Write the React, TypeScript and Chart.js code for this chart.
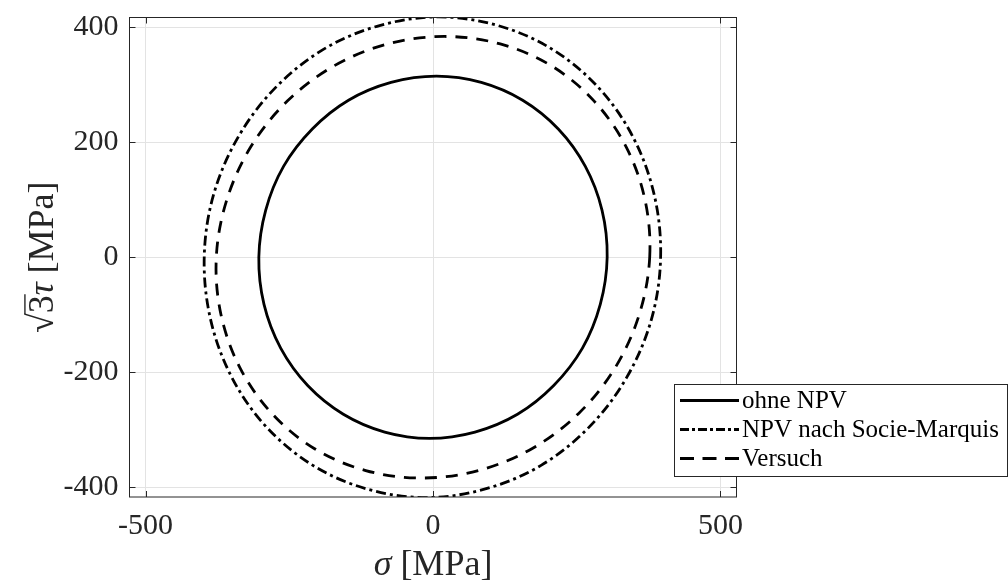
import React, { useEffect, useRef } from "react";
import { Chart, registerables } from "chart.js";

Chart.register(...registerables);

// ---- data ----
const seriesLabels = ["ohne NPV", "NPV nach Socie-Marquis", "Versuch"];

// ohne NPV (solid)
const ohneSigma = [303, 294, 265, 218, 156, 84, 6, -73, -147, -210, -260, -291, -303, -294, -265, -218, -156, -84, -6, 73, 147, 210, 260, 291];
const ohneTau = [0, 82, 158, 223, 273, 304, 315, 304, 273, 223, 158, 82, 0, -82, -158, -223, -273, -304, -315, -304, -273, -223, -158, -82];

// NPV nach Socie-Marquis (dash-dot)
const smSigma = [396, 385, 348, 288, 207, 113, 10, -93, -190, -274, -339, -382, -398, -387, -350, -290, -209, -115, -12, 91, 188, 272, 337, 380];
const smTau = [0, 108, 209, 295, 362, 403, 418, 403, 362, 295, 209, 108, 0, -108, -209, -295, -362, -403, -418, -403, -362, -295, -209, -108];

// Versuch (dashed)
const vSigma = [377, 369, 336, 280, 206, 117, 20, -79, -172, -253, -317, -359, -377, -369, -336, -280, -206, -117, -20, 79, 172, 253, 317, 359];
const vTau = [0, 99, 192, 272, 333, 371, 384, 371, 333, 272, 192, 99, 0, -99, -192, -272, -333, -371, -384, -371, -333, -272, -192, -99];

const xTickValues = [-500, 0, 500];
const yTickValues = [-400, -200, 0, 200, 400];
const xLimits = [-528, 528];
const yLimits = [-417, 417];

const SERIF = '"Liberation Serif", "DejaVu Serif", serif';
const AXIS_COLOR = "#262626";

const toPoints = (xs: number[], ys: number[]) => xs.map((x, i) => ({ x, y: ys[i] }));

const loopPlugin = {
  id: "closedLoop",
  afterDatasetUpdate(chart: any, args: any) {
    const line = args.meta && args.meta.dataset;
    if (line) {
      line._loop = true;
      line._fullLoop = true;
    }
  },
};

const framePlugin = {
  id: "frame",
  afterDatasetsDraw(chart: any) {
    const { ctx, chartArea: a, scales } = chart;
    ctx.save();
    ctx.strokeStyle = AXIS_COLOR;
    ctx.lineWidth = 1;
    ctx.strokeRect(a.left, a.top, a.right - a.left, a.bottom - a.top);
    const tl = 6;
    ctx.beginPath();
    for (const v of xTickValues) {
      const px = Math.round(scales.x.getPixelForValue(v)) + 0.5;
      ctx.moveTo(px, a.bottom);
      ctx.lineTo(px, a.bottom - tl);
      ctx.moveTo(px, a.top);
      ctx.lineTo(px, a.top + tl);
    }
    for (const v of yTickValues) {
      const py = Math.round(scales.y.getPixelForValue(v)) + 0.5;
      ctx.moveTo(a.left, py);
      ctx.lineTo(a.left + tl, py);
      ctx.moveTo(a.right, py);
      ctx.lineTo(a.right - tl, py);
    }
    ctx.stroke();
    ctx.restore();
  },
};

const titlePlugin = {
  id: "axisTitles",
  afterDraw(chart: any) {
    const { ctx, chartArea: a } = chart;
    const fs = 36;
    const up = `${fs}px ${SERIF}`;
    const it = `italic ${fs}px ${SERIF}`;
    ctx.save();
    ctx.fillStyle = AXIS_COLOR;
    ctx.textBaseline = "alphabetic";
    ctx.textAlign = "left";
    // x title: σ [MPa]
    {
      const parts = [
        { t: "σ", f: it },
        { t: " [MPa]", f: up },
      ];
      let total = 0;
      for (const p of parts) {
        ctx.font = p.f;
        total += ctx.measureText(p.t).width;
      }
      let x = (a.left + a.right) / 2 - total / 2;
      const y = 575;
      for (const p of parts) {
        ctx.font = p.f;
        ctx.fillText(p.t, x, y);
        x += ctx.measureText(p.t).width;
      }
    }
    // y title: √3τ [MPa]
    {
      ctx.translate(53, (a.top + a.bottom) / 2);
      ctx.rotate(-Math.PI / 2);
      const parts = [
        { t: "√", f: up },
        { t: "3", f: up },
        { t: "τ", f: it },
        { t: " [MPa]", f: up },
      ];
      let total = 0;
      const widths: number[] = [];
      for (const p of parts) {
        ctx.font = p.f;
        const w = ctx.measureText(p.t).width;
        widths.push(w);
        total += w;
      }
      let x = -total / 2;
      const starts: number[] = [];
      for (let i = 0; i < parts.length; i++) {
        ctx.font = parts[i].f;
        starts.push(x);
        ctx.fillText(parts[i].t, x, 0);
        x += widths[i];
      }
      ctx.strokeStyle = AXIS_COLOR;
      ctx.lineWidth = 1.4;
      ctx.beginPath();
      const yb = -0.78 * fs;
      ctx.moveTo(starts[1] - 1, yb);
      ctx.lineTo(starts[1] + widths[1] + 1, yb);
      ctx.stroke();
    }
    ctx.restore();
  },
};

const legendPlugin = {
  id: "customLegend",
  afterDraw(chart: any) {
    const { ctx } = chart;
    const box = { x: 674.5, y: 384.5, w: 333, h: 92 };
    ctx.save();
    ctx.fillStyle = "#ffffff";
    ctx.fillRect(box.x, box.y, box.w, box.h);
    ctx.strokeStyle = AXIS_COLOR;
    ctx.lineWidth = 1;
    ctx.strokeRect(box.x, box.y, box.w, box.h);
    const rows = [400.5, 429.5, 458.5];
    chart.data.datasets.forEach((ds: any, i: number) => {
      const y = rows[i];
      ctx.save();
      ctx.strokeStyle = ds.borderColor;
      ctx.lineWidth = ds.borderWidth;
      ctx.setLineDash(ds.legendDash || []);
      ctx.beginPath();
      ctx.moveTo(680, y);
      ctx.lineTo(739, y);
      ctx.stroke();
      ctx.restore();
      ctx.fillStyle = "#000000";
      ctx.font = `25px ${SERIF}`;
      ctx.textBaseline = "alphabetic";
      ctx.textAlign = "left";
      ctx.fillText(ds.label, 742, y + 7.5);
    });
    ctx.restore();
  },
};

export default function App() {
  const canvasRef = useRef<HTMLCanvasElement | null>(null);

  useEffect(() => {
    const canvas = canvasRef.current;
    if (!canvas) return;
    const common = {
      borderColor: "#000000",
      borderWidth: 2.8,
      pointRadius: 0,
      pointHoverRadius: 0,
      fill: false,
      tension: 0.34,
      clip: 0,
    };
    const chart = new Chart(canvas, {
      type: "line",
      data: {
        datasets: [
          { ...common, label: seriesLabels[0], data: toPoints(ohneSigma, ohneTau), borderDash: [], legendDash: [] },
          { ...common, label: seriesLabels[1], data: toPoints(smSigma, smTau), borderDash: [10, 4, 3, 4], legendDash: [9, 3, 3, 3] },
          { ...common, label: seriesLabels[2], data: toPoints(vSigma, vTau), borderDash: [12, 9], legendDash: [14, 8.5] },
        ],
      },
      options: {
        animation: false,
        responsive: false,
        devicePixelRatio: 1,
        events: [],
        layout: { padding: { left: 0, top: 17.5, right: 1008 - 736.5, bottom: 0 } },
        plugins: {
          legend: { display: false },
          tooltip: { enabled: false },
          title: { display: false },
        },
        scales: {
          x: {
            type: "linear",
            min: xLimits[0],
            max: xLimits[1],
            afterBuildTicks: (scale: any) => {
              scale.ticks = xTickValues.map((v) => ({ value: v }));
            },
            afterFit: (scale: any) => {
              scale.height = 581 - 497;
              scale.paddingLeft = 0;
              scale.paddingRight = 0;
            },
            grid: { color: "#e3e3e3", lineWidth: 1, drawTicks: false },
            border: { display: false },
            ticks: {
              color: AXIS_COLOR,
              font: { family: SERIF, size: 30 },
              padding: 11,
              maxRotation: 0,
              autoSkip: false,
              callback: (v: any) => String(v),
            },
          },
          y: {
            type: "linear",
            min: yLimits[0],
            max: yLimits[1],
            afterBuildTicks: (scale: any) => {
              scale.ticks = yTickValues.map((v) => ({ value: v }));
            },
            afterFit: (scale: any) => {
              scale.width = 129.5;
              scale.paddingTop = 0;
              scale.paddingBottom = 0;
            },
            grid: { color: "#e3e3e3", lineWidth: 1, drawTicks: false },
            border: { display: false },
            ticks: {
              color: AXIS_COLOR,
              font: { family: SERIF, size: 30 },
              padding: 11,
              autoSkip: false,
              callback: (v: any) => String(v),
            },
          },
        },
      },
      plugins: [loopPlugin, framePlugin, titlePlugin, legendPlugin],
    } as any);
    return () => chart.destroy();
  }, []);

  return (
    <div style={{ position: "absolute", left: 0, top: 0, width: 1008, height: 581, background: "#ffffff" }}>
      <canvas ref={canvasRef} width={1008} height={581} style={{ display: "block", width: 1008, height: 581 }} />
    </div>
  );
}
